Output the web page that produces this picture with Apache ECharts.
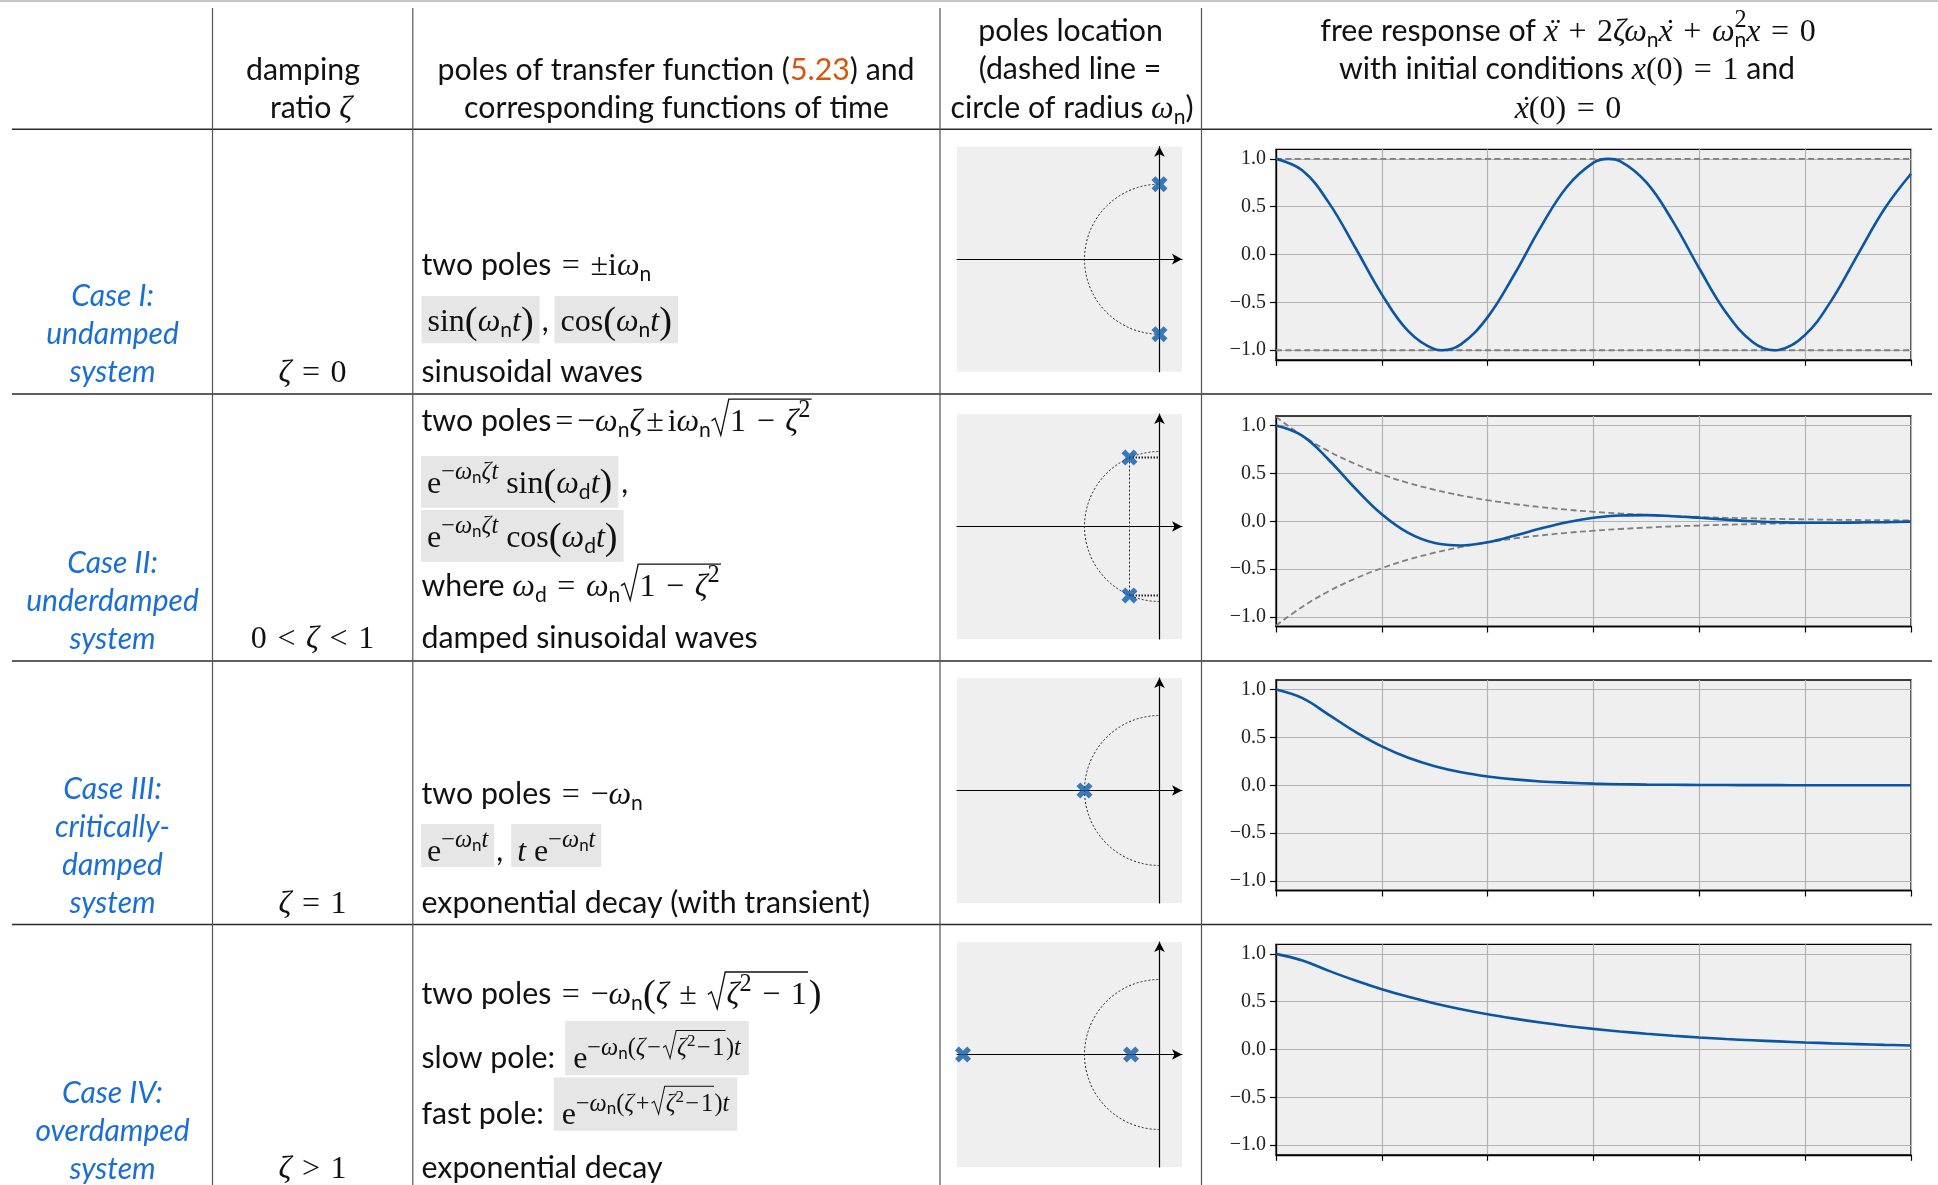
<!DOCTYPE html>
<html><head><meta charset="utf-8">
<script src="https://cdn.jsdelivr.net/npm/echarts@6/dist/echarts.min.js"></script>
<style>html,body{margin:0;padding:0;background:#fff}#c{width:1938px;height:1185px}</style>
</head><body><div id="c"></div>
<script>
// ---------------- DATA ----------------
const timeT = [0,0.5,1,1.5,2,2.5,3,3.5,4,4.5,5,5.5,6,6.5,7,7.5,8,8.5,9,9.5,10,10.5,11,11.5,12];
const timeI = [0,0.5,1,1.5,2,2.5,3,3.14,3.5,4,4.5,5,5.5,6,6.28,6.5,7,7.5,8,8.5,9,9.42,9.5,10,10.5,11,11.5,12];
const respI = [1.000,0.878,0.540,0.071,-0.416,-0.801,-0.990,-1.000,-0.936,-0.654,-0.211,0.284,0.709,0.960,1.000,0.977,0.754,0.347,-0.146,-0.602,-0.911,-1.000,-0.997,-0.839,-0.476,0.004,0.478,0.844];
const envITime = [0, 12];
const envIUp = [1, 1];
const envILow = [-1, -1];
const respII = [1.000,0.892,0.640,0.342,0.073,-0.122,-0.228,-0.253,-0.219,-0.152,-0.076,-0.010,0.036,0.060,0.064,0.053,0.036,0.017,0.000,-0.010,-0.016,-0.016,-0.013,-0.009,-0.004];
const envIIUp = [1.091,0.893,0.731,0.599,0.490,0.401,0.329,0.269,0.220,0.180,0.148,0.121,0.099,0.081,0.066,0.054,0.045,0.036,0.030,0.024,0.020,0.016,0.013,0.011,0.009];
const envIILow = [-1.091,-0.893,-0.731,-0.599,-0.490,-0.401,-0.329,-0.269,-0.220,-0.180,-0.148,-0.121,-0.099,-0.081,-0.066,-0.054,-0.045,-0.036,-0.030,-0.024,-0.020,-0.016,-0.013,-0.011,-0.009];
const respIII = [1.000,0.910,0.736,0.558,0.406,0.287,0.199,0.136,0.092,0.061,0.040,0.027,0.017,0.011,0.007,0.005,0.003,0.002,0.001,0.001,0.000,0.000,0.000,0.000,0.000];
const respIV = [1.000,0.930,0.822,0.721,0.630,0.551,0.482,0.422,0.369,0.323,0.282,0.247,0.216,0.189,0.165,0.144,0.126,0.110,0.097,0.085,0.074,0.065,0.057,0.049,0.043];
const yTicks = [-1, -0.5, 0, 0.5, 1];
const polesI = [[0, 1], [0, -1]];
const polesII = [[-0.4, 0.92], [-0.4, -0.92]];
const polesIII = [[-1, 0]];
const polesIV = [[-2.62, 0], [-0.38, 0]];
const unitCircle = [[0, 0, 1]];          // centre x, centre y, radius ωn
const projII = [[-0.4, 0.92], [-0.4, -0.92]];
const imagUpII = [[-0.4, 0.92], [0, 0.92]];
const imagDnII = [[-0.4, -0.92], [0, -0.92]];

// ---------------- STYLE ----------------
const BLUE = '#0a55a5', CASEBLUE = '#1a6fd6', ORANGE = '#d9540b', INK = '#111';
const BT = 30.3, BM = 32, BASE_SHIFT = 2.5;

// ---------------- text layout helpers ----------------
const mc = document.createElement('canvas').getContext('2d');
const FONTS = {T:'Lato', C:'Lato', M:'"Liberation Serif"', I:'"Liberation Serif"'};
function fnt(f, s){ return ((f==='I'||f==='C')?'italic ':'') + s.toFixed(1) + 'px ' + FONTS[f]; }
const midCache = {};
function midOff(font){
  if (midCache[font] !== undefined) return midCache[font];
  mc.font = font;
  mc.textBaseline = 'alphabetic';
  const a = mc.measureText('H').actualBoundingBoxDescent;
  mc.textBaseline = 'middle';
  const b = mc.measureText('H').actualBoundingBoxDescent;
  mc.textBaseline = 'alphabetic';
  return (midCache[font] = b - a);
}
const GR = [], GL = [], GT = [];
function txt(out, x, base, t, font, color, align){
  mc.font = font;
  const w = mc.measureText(t).width;
  out.push({type:'text', x:x, y: base + BASE_SHIFT - midOff(font), silent:true,
    style:{text:t, font:font, fill: color || INK, align: align || 'left', verticalAlign:'middle'}});
  return w;
}
function lay(out, x, base, items){
  for (const p of items){
    if (p.sq){
      const s = p.s, b = base + (p.dy || 0) + BASE_SHIFT;
      const x0 = x, xi = x0 + 0.6*s;
      const xe = lay(out, xi, base, p.sq);
      const top = b - p.h*s;
      out.push({type:'polyline', silent:true, shape:{points:[[x0+0.02*s, b-0.30*s],[x0+0.13*s, b-0.38*s],[x0+0.31*s, b+0.15*s],[x0+0.56*s, top],[xe+0.04*s, top]]},
        style:{stroke:INK, fill:null, lineWidth: Math.max(1, s*0.042)}});
      x = xe + 0.06*s;
    } else {
      x += (p.pl || 0);
      const font = fnt(p.f, p.s);
      const w = txt(out, x, base + (p.dy || 0), p.t, font, p.c);
      if (p.acc){ txt(out, x + w/2 + 0.08*p.s, base + (p.dy||0), p.acc, font, p.c, 'center'); }
      if (!p.na) x += w + (p.pr || 0);
    }
  }
  return x;
}
function shiftEls(els, off){
  els.forEach(e => {
    if (e.type === 'text') e.x += off;
    else if (e.type === 'polyline') e.shape.points.forEach(pt => pt[0] += off);
  });
}
function put(x, base, items){ return lay(GT, x, base, items); }
function centerLine(cx, base, items){
  const tmp = [];
  const w = lay(tmp, 0, base, items);
  shiftEls(tmp, cx - w/2);
  GT.push(...tmp);
}
function boxed(x, base, items, yTop, yBot, pad){
  const end = lay(GT, x + pad, base, items) + pad;
  GR.push({type:'rect', silent:true, shape:{x:x, y:yTop, width:end - x, height:yBot - yTop}, style:{fill:'#e6e6e6'}});
  return end;
}
const T = (t, c) => ({t, f:'T', s:BT, c});
const M = t => ({t, f:'M', s:BM});
const I = t => ({t, f:'I', s:BM});
const O = t => ({t:' ' + t + ' ', f:'M', s:BM, pl:0.08*BM, pr:0.08*BM});
const Ot = t => ({t, f:'M', s:BM, pl:0.12*BM, pr:0.12*BM});
const P = t => ({t, f:'M', s:BM*1.2, dy:BM*0.07});
const sub = t => ({t, f:'T', s:BM*0.66, dy:BM*0.2});
const supM = t => ({t, f:'M', s:BM*0.76, dy:-BM*0.42});
const supO = t => ({t, f:'M', s:BM*0.76, dy:-BM*0.42, pl:0.05*BM, pr:0.05*BM});
const supI = t => ({t, f:'I', s:BM*0.76, dy:-BM*0.42});
const ssub = t => ({t, f:'T', s:BM*0.53, dy:-BM*0.3});
const C = t => ({t, f:'C', s:30, c:CASEBLUE});

// ---------------- table rules ----------------
GL.push({type:'line', silent:true, shape:{x1:0, y1:1, x2:1938, y2:1}, style:{stroke:'#b4b4b4', lineWidth:1.5}});
[129.3, 394, 661, 924.5].forEach(y => GL.push({type:'line', silent:true, shape:{x1:12, y1:y, x2:1932, y2:y}, style:{stroke:'#2a2a2a', lineWidth:1.6}}));
[212.5, 412.8, 940, 1201.5].forEach(x => GL.push({type:'line', silent:true, shape:{x1:x, y1:8, x2:x, y2:1185}, style:{stroke:'#555', lineWidth:1.2}}));

// ---------------- header ----------------
centerLine(303, 77, [T('damping')]);
centerLine(311, 115, [T('ratio '), I('ζ')]);
centerLine(676, 77, [T('poles of transfer function ('), T('5.23', ORANGE), T(') and')]);
centerLine(676.5, 115, [T('corresponding functions of time')]);
centerLine(1070.5, 38, [T('poles location')]);
centerLine(1070, 76, [T('(dashed line =')]);
centerLine(1072, 115, [T('circle of radius '), I('ω'), sub('n'), T(')')]);
const xdd = () => ({t:'x', f:'I', s:BM, acc:'¨'}), xd = () => ({t:'x', f:'I', s:BM, acc:'˙'});
centerLine(1568, 38, [T('free response of '), xdd(), O('+'), M('2'), I('ζω'), sub('n'), xd(), O('+'), I('ω'),
  Object.assign(supM('2'), {na:true}), sub('n'), I('x'), O('='), M('0')]);
centerLine(1567, 76, [T('with initial conditions '), I('x'), M('(0)'), O('='), M('1'), T(' and')]);
centerLine(1568, 115, [xd(), M('(0)'), O('='), M('0')]);

// ---------------- case labels ----------------
[['Case I:',303],['undamped',341],['system',379],
 ['Case II:',570],['underdamped',608],['system',646],
 ['Case III:',796],['critically-',834],['damped',872],['system',910],
 ['Case IV:',1100],['overdamped',1138],['system',1176]].forEach(([t,b]) => centerLine(112.5, b, [C(t)]));

// ---------------- damping ratio column ----------------
centerLine(312.5, 379, [I('ζ'), O('='), M('0')]);
centerLine(312.5, 645, [M('0'), O('<'), I('ζ'), O('<'), M('1')]);
centerLine(312.5, 910, [I('ζ'), O('='), M('1')]);
centerLine(312.5, 1175.5, [I('ζ'), O('>'), M('1')]);

// ---------------- poles / functions column ----------------
let x;
// Case I
put(421.5, 272, [T('two poles'), O('='), M('±i'), I('ω'), sub('n')]);
x = boxed(421.5, 328, [M('sin'), P('('), I('ω'), sub('n'), I('t'), P(')')], 296, 343.3, 6);
x = put(x + 2, 328, [T(',')]);
boxed(x + 6, 328, [M('cos'), P('('), I('ω'), sub('n'), I('t'), P(')')], 296, 343.3, 6);
put(421.5, 379, [T('sinusoidal waves')]);
// Case II
const rad1 = () => ({sq:[M('1'), O('−'), I('ζ'), supM('2')], s:BM, h:0.98});
put(421.5, 428, [T('two poles'), Ot('='), M('−'), I('ω'), sub('n'), I('ζ'), Ot('±'), M('i'), I('ω'), sub('n'), rad1()]);
const expZ = () => [supM('−'), supI('ω'), ssub('n'), supI('ζt')];
x = boxed(421, 490, [M('e'), ...expZ(), M(' sin'), P('('), I('ω'), sub('d'), I('t'), P(')')], 456, 507.7, 6);
put(x + 3, 490, [T(',')]);
boxed(421, 544, [M('e'), ...expZ(), M(' cos'), P('('), I('ω'), sub('d'), I('t'), P(')')], 510, 561.7, 6);
put(421.5, 593, [T('where '), I('ω'), sub('d'), O('='), I('ω'), sub('n'), rad1()]);
put(421.5, 645, [T('damped sinusoidal waves')]);
// Case III
put(421.5, 801, [T('two poles'), O('='), M('−'), I('ω'), sub('n')]);
const expN = () => [supM('−'), supI('ω'), ssub('n'), supI('t')];
x = boxed(421, 858, [M('e'), ...expN()], 824, 867, 6);
x = put(x + 2, 858, [T(',')]);
boxed(x + 8, 858, [I('t'), M(' e'), ...expN()], 824, 867, 6);
put(421.5, 910, [T('exponential decay (with transient)')]);
// Case IV
put(421.5, 1001.5, [T('two poles'), O('='), M('−'), I('ω'), sub('n'), P('('), I('ζ'), O('±'),
  {sq:[I('ζ'), supM('2'), O('−'), M('1')], s:BM, h:1.0}, P(')')]);
const radS = () => ({sq:[supI('ζ'), {t:'2', f:'M', s:BM*0.53, dy:-BM*0.68}, supO('−'), supM('1')], s:BM*0.76, dy:-BM*0.42, h:1.0});
const expS = sgn => [supM('−'), supI('ω'), ssub('n'), supM('('), supI('ζ'), supO(sgn), radS(), supM(')'), supI('t')];
x = put(421.5, 1065.7, [T('slow pole:')]);
boxed(x + 10, 1065.7, [M('e'), ...expS('−')], 1021, 1075, 8);
x = put(421.5, 1121.5, [T('fast pole:')]);
boxed(x + 10, 1121.5, [M('e'), ...expS('+')], 1077.6, 1130.7, 8);
put(421.5, 1175.6, [T('exponential decay')]);

// ---------------- chart ----------------
const poleTops = [146.7, 414, 678, 942];
const respTops = [149.3, 416, 680, 944.3];
const grids = [], xAxes = [], yAxes = [], series = [];
poleTops.forEach((top, i) => {
  grids.push({left:957, top:top, width:225, height:225, show:true, backgroundColor:'#efefef', borderWidth:0});
  xAxes.push({type:'value', gridIndex:i, min:-2.7, max:0.3,
    axisLine:{show:true, onZero:true, symbol:['none','arrow'], symbolSize:[8,10], lineStyle:{color:'#000', width:1.2}},
    axisTick:{show:false}, axisLabel:{show:false}, splitLine:{show:false}});
  yAxes.push({type:'value', gridIndex:i, min:-1.5, max:1.5,
    axisLine:{show:true, onZero:true, symbol:['none','arrow'], symbolSize:[8,10], lineStyle:{color:'#000', width:1.2}},
    axisTick:{show:false}, axisLabel:{show:false}, splitLine:{show:false}});
});
respTops.forEach((top, i) => {
  grids.push({left:1276, top:top, width:635, height:210.5, show:true, backgroundColor:'#efefef', borderColor:'#000', borderWidth:1.3});
  xAxes.push({type:'value', gridIndex:4+i, min:0, max:12, interval:2,
    axisLine:{show:true, onZero:false, lineStyle:{color:'#000', width:1.3}},
    axisTick:{show:true, length:6, lineStyle:{color:'#000', width:1.2}},
    axisLabel:{show:false}, splitLine:{show:true, lineStyle:{color:'#b3b3b3', width:1.2}}});
  yAxes.push({type:'value', gridIndex:4+i, min:-1.1, max:1.1,
    axisLine:{show:true, lineStyle:{color:'#000', width:1.3}},
    axisTick:{show:true, length:6, customValues:yTicks, lineStyle:{color:'#000', width:1.2}},
    axisLabel:{show:true, customValues:yTicks, margin:10, fontFamily:'"Liberation Serif"', fontSize:20, color:'#222',
      formatter: v => (v < 0 ? '−' : '') + Math.abs(v).toFixed(1)},
    splitLine:{show:true, lineStyle:{color:'#b3b3b3', width:1.2}}});
});

const XPATH = 'path://M2.4,0 L5,2.6 L7.6,0 L10,2.4 L7.4,5 L10,7.6 L7.6,10 L5,7.4 L2.4,10 L0,7.6 L2.6,5 L0,2.4 Z';
const arcRender = (params, api) => {
  const c = api.coord([api.value(0), api.value(1)]);
  const r = api.size([api.value(2), 0])[0];
  return {type:'arc', shape:{cx:c[0], cy:c[1], r:r, startAngle:Math.PI/2, endAngle:Math.PI*1.5, clockwise:true},
    style:{stroke:'#222', fill:null, lineWidth:1, lineDash:[2,2]}};
};
[polesI, polesII, polesIII, polesIV].forEach((ps, i) => {
  series.push({type:'custom', xAxisIndex:i, yAxisIndex:i, data:unitCircle, renderItem:arcRender, silent:true, clip:false, z:3});
  series.push({type:'scatter', xAxisIndex:i, yAxisIndex:i, data:ps, symbol:XPATH, symbolSize:16, itemStyle:{color:'#0d5aa8'}, silent:true, clip:false, z:6});
});
const guide = (d, w, dash) => ({type:'line', xAxisIndex:1, yAxisIndex:1, data:d, showSymbol:false, silent:true, z:4,
  lineStyle:{color:'#222', width:w, type:dash}});
series.push(guide(projII, 1, [2,2]), guide(imagUpII, 2, [1.5,1.5]), guide(imagDnII, 2, [1.5,1.5]));

const pairs = (tt, yy) => tt.map((t, k) => [t, yy[k]]);
const dashed = (i, tt, yy) => ({type:'line', xAxisIndex:4+i, yAxisIndex:4+i, data:pairs(tt, yy), showSymbol:false, smooth:0.4, silent:true, z:3,
  lineStyle:{color:'#7f7f7f', width:1.8, type:[6,3.5]}});
series.push(dashed(0, envITime, envIUp), dashed(0, envITime, envILow), dashed(1, timeT, envIIUp), dashed(1, timeT, envIILow));
[[timeI, respI], [timeT, respII], [timeT, respIII], [timeT, respIV]].forEach(([tt, yy], i) => {
  series.push({type:'line', xAxisIndex:4+i, yAxisIndex:4+i, data:pairs(tt, yy), showSymbol:false, smooth:0.4, silent:true, z:5,
    lineStyle:{color:BLUE, width:2.6}});
});

const chart = echarts.init(document.getElementById('c'), null, {renderer:'canvas', width:1938, height:1185});
chart.setOption({
  animation:false,
  backgroundColor:'#fff',
  grid:grids, xAxis:xAxes, yAxis:yAxes, series:series,
  graphic:{elements:[...GR, ...GL, ...GT]}
});
</script></body></html>
